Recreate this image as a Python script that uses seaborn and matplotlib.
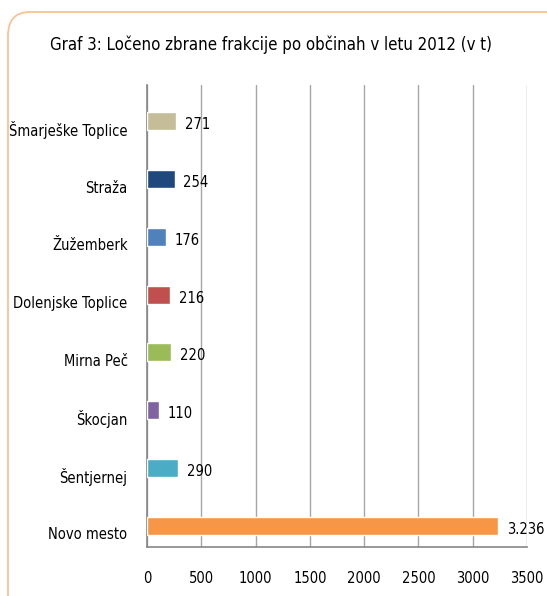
import matplotlib
matplotlib.use("Agg")
import matplotlib.pyplot as plt
from matplotlib.patches import FancyBboxPatch
import seaborn as sns
import pandas as pd
import numpy as np

# podatki
obcine = ['Šmarješke Toplice', 'Straža', 'Žužemberk', 'Dolenjske Toplice',
          'Mirna Peč', 'Škocjan', 'Šentjernej', 'Novo mesto']
kolicine = [271, 254, 176, 216, 220, 110, 290, 3236]
barve = ['#C4BD97', '#1F497D', '#4F81BD', '#C0504D',
         '#9BBB59', '#8064A2', '#4BACC6', '#F79646']
x_ticks = [0, 500, 1000, 1500, 2000, 2500, 3000, 3500]
naslov = 'Graf 3: Ločeno zbrane frakcije po občinah v letu 2012 (v t)'

sns.set_style('white')
plt.rcParams['font.family'] = ['DejaVu Sans']
plt.rcParams['font.stretch'] = 'condensed'
plt.rcParams['text.color'] = 'black'
plt.rcParams['xtick.color'] = 'black'
plt.rcParams['ytick.color'] = 'black'

df = pd.DataFrame({'obcina': obcine, 'kolicina': kolicine})

fig = plt.figure(figsize=(5.47, 5.96), dpi=100)
ax = fig.add_axes([147 / 547, 1 - 547 / 596, 380 / 547, 462 / 596])

sns.barplot(data=df, y='obcina', x='kolicina', hue='obcina', palette=barve,
            orient='h', width=0.31, saturation=1, legend=False, ax=ax, zorder=3)

# okvir
okvir = FancyBboxPatch((8 / 547, -0.1), 1.2, 1.1 - 12 / 596,
                       boxstyle='round,pad=0,rounding_size=0.04',
                       transform=fig.transFigure, fill=False,
                       edgecolor='#F9C393', linewidth=1.3, zorder=0)
fig.patches.append(okvir)

renderer = fig.canvas.get_renderer()


def fit_size(text, target_px, base=12):
    t = fig.text(0, 0, text, fontsize=base)
    w = t.get_window_extent(renderer).width
    t.remove()
    return base * target_px / w


lab_fs = fit_size('Šmarješke Toplice', 117)
tit_fs = fit_size(naslov, 440)

n = len(obcine)
off = 0.13
ax.set_ylim(n - 0.5 - off, -0.5 - off)
ax.set_yticks(np.arange(n) + 0.13)
ax.set_yticklabels(obcine, fontsize=lab_fs)
ax.tick_params(axis='y', length=0, pad=14)
ax.set_yticks(np.arange(n + 1) - 0.5 - off, minor=True)
ax.tick_params(axis='y', which='minor', length=4, color='#868686', width=1)

ax.set_xlim(0, 3500)
ax.set_xticks(x_ticks)
ax.set_xticklabels([str(t) for t in x_ticks], fontsize=lab_fs)
ax.tick_params(axis='x', length=5, color='#868686', width=1, pad=12)
ax.xaxis.grid(True, color='#A6A6A6', linewidth=1, zorder=0)
ax.set_axisbelow(True)

for s in ['top', 'right']:
    ax.spines[s].set_visible(False)
for s in ['left', 'bottom']:
    ax.spines[s].set_color('#868686')
    ax.spines[s].set_linewidth(1.2)

ax.set_xlabel('')
ax.set_ylabel('')

for i, v in enumerate(kolicine):
    txt = f'{v:,}'.replace(',', '.')
    ax.text(v + 80, i + 0.06, txt, va='center', ha='left', fontsize=lab_fs)

fig.text(271 / 547, 1 - 45 / 596, naslov, ha='center', va='center', fontsize=tit_fs)

fig.savefig('out.png', dpi=100)
